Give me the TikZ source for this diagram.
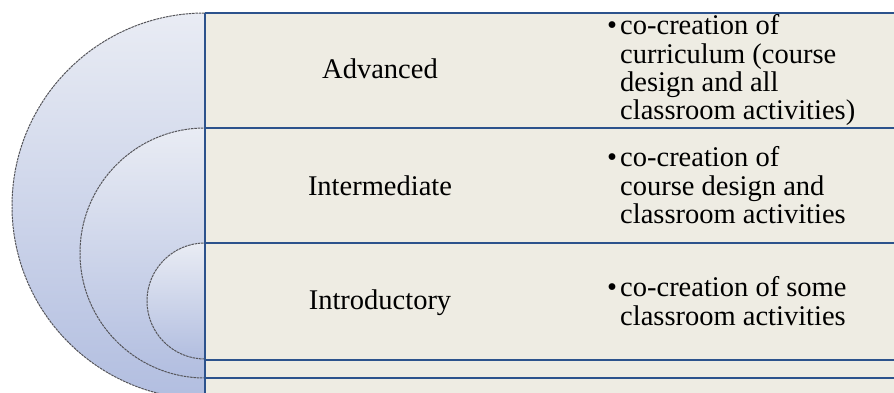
\documentclass[tikz,border=0pt]{standalone}
\usepackage{fontspec}
\setmainfont{Liberation Serif}
\definecolor{celltan}{RGB}{238,236,227}
\definecolor{rule}{RGB}{44,82,140}
\definecolor{ringtop}{RGB}{233,236,244}
\definecolor{ringbot}{RGB}{178,190,224}
\definecolor{ringedge}{RGB}{85,85,90}
\tikzset{
  ring/.style={top color=ringtop, bottom color=ringbot, draw=ringedge, line width=1pt, dash pattern=on 2.5pt off 0.8pt},
  rowrule/.style={draw=rule, line width=2pt},
  lvl/.style={font=\fontsize{28.5}{28}\selectfont, inner sep=0pt, anchor=base},
  desc/.style={font=\fontsize{28.5}{28}\selectfont, inner sep=0pt, anchor=base west},
}
\newcommand{\bulletcell}[1]{\begin{tabular}[t]{@{}l@{}l@{}}\makebox[13pt][l]{\textbullet}&#1\end{tabular}}
\begin{document}
\begin{tikzpicture}[x=1pt,y=1pt]
\useasboundingbox (0,0) rectangle (894,393);
\clip (0,0) rectangle (894,393);
% nested half-circles
\path[ring] (205,187) circle[radius=193];
\path[ring] (205,140) circle[radius=125];
\path[ring] (205,92) circle[radius=58];
% table background
\fill[celltan] (205,0) rectangle (894,380);
% coordinates for rules
\coordinate (tl) at (205,380); \coordinate (tr) at (894,380);
\coordinate (r1l) at (205,265); \coordinate (r1r) at (894,265);
\coordinate (r2l) at (205,150); \coordinate (r2r) at (894,150);
\coordinate (r3l) at (205,33); \coordinate (r3r) at (894,33);
\coordinate (r4l) at (205,15); \coordinate (r4r) at (894,15);
\coordinate (bl) at (205,0);
\draw[rowrule] (tl) -- (tr);
\draw[rowrule] (r1l) -- (r1r);
\draw[rowrule] (r2l) -- (r2r);
\draw[rowrule] (r3l) -- (r3r);
\draw[rowrule] (r4l) -- (r4r);
\draw[rowrule] (bl) -- (tl);
% level labels
\node[lvl] (adv) at (380,314) {Advanced};
\node[lvl] (int) at (380,197) {Intermediate};
\node[lvl] (intro) at (380,83) {Introductory};
% descriptions
\node[desc] (dadv) at (607,358) {\bulletcell{co-creation of\\&curriculum (course\\&design and all\\&classroom activities)}};
\node[desc] (dint) at (607,226) {\bulletcell{co-creation of\\&course design and\\&classroom activities}};
\node[desc] (dintro) at (607,96) {\bulletcell{co-creation of some\\&classroom activities}};
\end{tikzpicture}
\end{document}
